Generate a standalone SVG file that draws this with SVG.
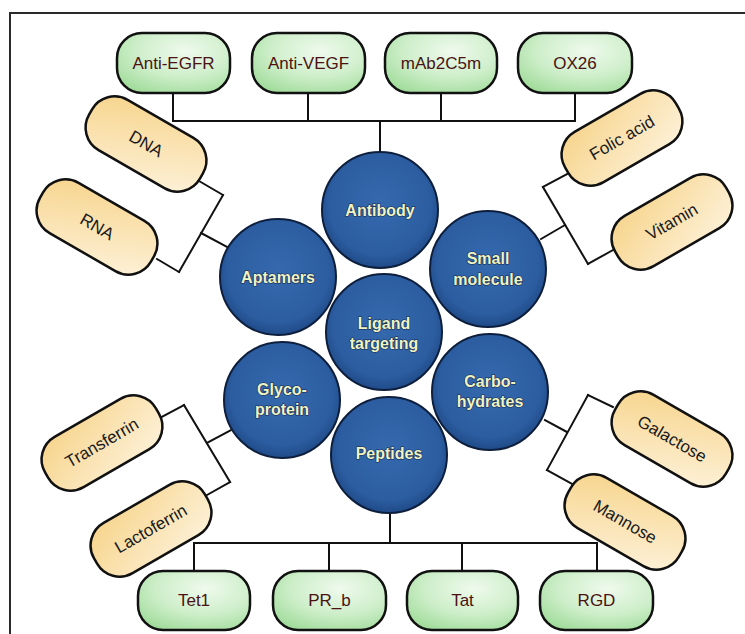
<svg xmlns="http://www.w3.org/2000/svg" width="745" height="634" viewBox="0 0 745 634">
<defs>
<radialGradient id="gBlue" cx="0.5" cy="0.45" r="0.55">
<stop offset="0" stop-color="#3569ae"/>
<stop offset="0.8" stop-color="#2c5da0"/>
<stop offset="1" stop-color="#1f4a88"/>
</radialGradient>
<radialGradient id="gGreen" cx="0.6" cy="0.3" r="0.8">
<stop offset="0" stop-color="#effaed"/>
<stop offset="0.55" stop-color="#cdeec9"/>
<stop offset="1" stop-color="#9fdb99"/>
</radialGradient>
<linearGradient id="gYellow" x1="0" y1="0" x2="1" y2="1">
<stop offset="0" stop-color="#f6d389"/>
<stop offset="0.6" stop-color="#fbe6bb"/>
<stop offset="1" stop-color="#fdf2da"/>
</linearGradient>
</defs>
<style>
.frame{fill:none;stroke:#2a2a2a;stroke-width:2}
.conn line{stroke:#111;stroke-width:2;stroke-linecap:square}
.gbox{fill:url(#gGreen);stroke:#111;stroke-width:2.5}
.ypill{fill:url(#gYellow);stroke:#111;stroke-width:2.5}
.circ{fill:url(#gBlue);stroke:#0e1f3d;stroke-width:2}
.gt{font-family:"Liberation Sans",Arial,sans-serif;font-size:17px;fill:#4a1212;text-anchor:middle;dominant-baseline:central}
.yt{font-family:"Liberation Sans",Arial,sans-serif;font-size:17px;fill:#1a1a1a;text-anchor:middle;dominant-baseline:central}
.ct{font-family:"Liberation Sans",Arial,sans-serif;font-size:16px;font-weight:bold;fill:#eef3c4;stroke:#14284f;stroke-width:1.2;paint-order:stroke;text-anchor:middle;dominant-baseline:central}
</style>
<rect x="0" y="0" width="745" height="634" fill="#ffffff"/>
<path class="frame" d="M10,640 L10,13 L760,13"/>

<g id="connectors" class="conn">
<!-- top bar -->
<line x1="173" y1="93" x2="173" y2="121"/>
<line x1="308" y1="93" x2="308" y2="121"/>
<line x1="441" y1="93" x2="441" y2="121"/>
<line x1="575" y1="93" x2="575" y2="121"/>
<line x1="173" y1="121" x2="575" y2="121"/>
<line x1="380" y1="121" x2="380" y2="152"/>
<!-- bottom bar -->
<line x1="194" y1="543" x2="194" y2="571"/>
<line x1="329" y1="543" x2="329" y2="571"/>
<line x1="462" y1="543" x2="462" y2="571"/>
<line x1="597" y1="543" x2="597" y2="571"/>
<line x1="194" y1="543" x2="597" y2="543"/>
<line x1="390" y1="513" x2="390" y2="543"/>
<!-- DNA / RNA to Aptamers -->
<line x1="199" y1="181" x2="223" y2="195"/>
<line x1="223" y1="195" x2="179" y2="272"/>
<line x1="157" y1="259" x2="179" y2="272"/>
<line x1="201" y1="233" x2="227" y2="247"/>
<!-- Folic acid / Vitamin to Small molecule -->
<line x1="567" y1="174" x2="543" y2="187"/>
<line x1="543" y1="187" x2="588" y2="264"/>
<line x1="613" y1="250" x2="588" y2="264"/>
<line x1="565" y1="225" x2="541" y2="239"/>
<!-- Transferrin / Lactoferrin to Glyco-protein -->
<line x1="160" y1="418" x2="184" y2="405"/>
<line x1="184" y1="405" x2="230" y2="482"/>
<line x1="207" y1="495" x2="230" y2="482"/>
<line x1="207" y1="443" x2="231" y2="430"/>
<!-- Galactose / Mannose to Carbohydrates -->
<line x1="613" y1="407" x2="588" y2="395"/>
<line x1="588" y1="395" x2="547" y2="470"/>
<line x1="572" y1="484" x2="547" y2="470"/>
<line x1="567" y1="432" x2="545" y2="420"/>
</g>

<!-- central circles -->
<g id="antibody"><circle class="circ" cx="380" cy="210" r="58"/><text class="ct" x="380" y="210">Antibody</text></g>
<g id="aptamers"><circle class="circ" cx="278" cy="277" r="58"/><text class="ct" x="278" y="277">Aptamers</text></g>
<g id="small-molecule"><circle class="circ" cx="488" cy="269" r="58"/><text class="ct" x="488" y="258">Small</text><text class="ct" x="488" y="279">molecule</text></g>
<g id="ligand-targeting"><circle class="circ" cx="384" cy="332" r="58"/><text class="ct" x="384" y="323">Ligand</text><text class="ct" x="384" y="343">targeting</text></g>
<g id="glycoprotein"><circle class="circ" cx="282" cy="400" r="58"/><text class="ct" x="282" y="389">Glyco-</text><text class="ct" x="282" y="409">protein</text></g>
<g id="carbohydrates"><circle class="circ" cx="490" cy="392" r="58"/><text class="ct" x="490" y="381">Carbo-</text><text class="ct" x="490" y="401">hydrates</text></g>
<g id="peptides"><circle class="circ" cx="389" cy="455" r="58"/><text class="ct" x="389" y="453">Peptides</text></g>

<!-- top green boxes -->
<g id="anti-egfr"><rect class="gbox" x="117" y="33" width="113" height="60" rx="25"/><text class="gt" x="173.5" y="63">Anti-EGFR</text></g>
<g id="anti-vegf"><rect class="gbox" x="252" y="33" width="113" height="60" rx="25"/><text class="gt" x="308.5" y="63">Anti-VEGF</text></g>
<g id="mab2c5m"><rect class="gbox" x="385" y="33" width="112" height="60" rx="25"/><text class="gt" x="441" y="63">mAb2C5m</text></g>
<g id="ox26"><rect class="gbox" x="518" y="33" width="114" height="60" rx="25"/><text class="gt" x="575" y="63">OX26</text></g>

<!-- bottom green boxes -->
<g id="tet1"><rect class="gbox" x="138" y="571" width="112" height="59" rx="25"/><text class="gt" x="194" y="600">Tet1</text></g>
<g id="pr_b"><rect class="gbox" x="273" y="571" width="113" height="59" rx="25"/><text class="gt" x="329.5" y="600">PR_b</text></g>
<g id="tat"><rect class="gbox" x="407" y="571" width="111" height="59" rx="25"/><text class="gt" x="462.5" y="600">Tat</text></g>
<g id="rgd"><rect class="gbox" x="540" y="571" width="113" height="59" rx="25"/><text class="gt" x="596.5" y="600">RGD</text></g>

<!-- yellow pills -->
<g id="dna" transform="translate(146,144) rotate(30)"><rect class="ypill" x="-64" y="-29" width="128" height="58" rx="26"/><text class="yt" x="0" y="0">DNA</text></g>
<g id="rna" transform="translate(97,227) rotate(30)"><rect class="ypill" x="-64" y="-29" width="128" height="58" rx="26"/><text class="yt" x="0" y="0">RNA</text></g>
<g id="folic-acid" transform="translate(622,138) rotate(-30)"><rect class="ypill" x="-64" y="-29" width="128" height="58" rx="26"/><text class="yt" x="0" y="0">Folic acid</text></g>
<g id="vitamin" transform="translate(672,222) rotate(-30)"><rect class="ypill" x="-64" y="-29" width="128" height="58" rx="26"/><text class="yt" x="0" y="0">Vitamin</text></g>
<g id="transferrin" transform="translate(102,443) rotate(-30)"><rect class="ypill" x="-64" y="-29" width="128" height="58" rx="26"/><text class="yt" x="0" y="0">Transferrin</text></g>
<g id="lactoferrin" transform="translate(151,529) rotate(-30)"><rect class="ypill" x="-64" y="-29" width="128" height="58" rx="26"/><text class="yt" x="0" y="0">Lactoferrin</text></g>
<g id="galactose" transform="translate(672,439) rotate(30)"><rect class="ypill" x="-64" y="-29" width="128" height="58" rx="26"/><text class="yt" x="0" y="0">Galactose</text></g>
<g id="mannose" transform="translate(625,522) rotate(30)"><rect class="ypill" x="-64" y="-29" width="128" height="58" rx="26"/><text class="yt" x="0" y="0">Mannose</text></g>
</svg>
